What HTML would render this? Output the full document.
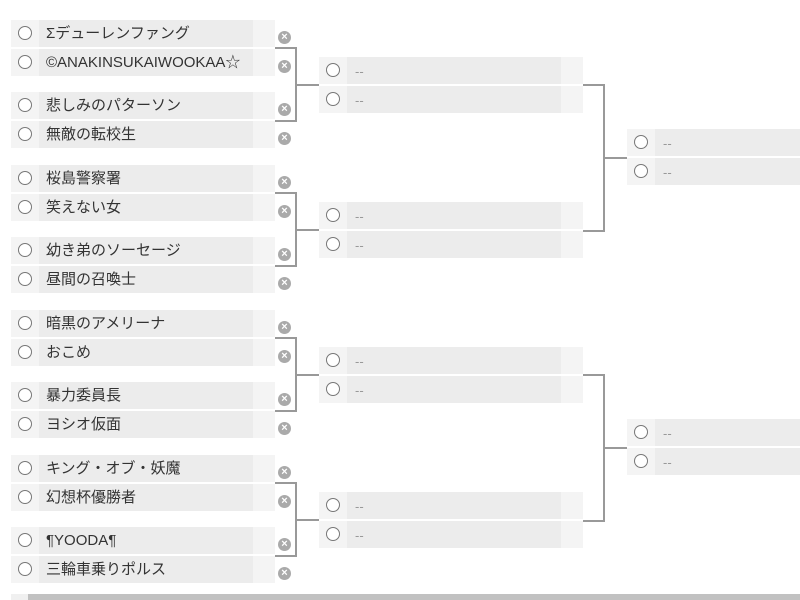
<!DOCTYPE html>
<html><head><meta charset="utf-8"><style>
*{margin:0;padding:0;box-sizing:border-box}
body{width:800px;height:600px;overflow:hidden;background:#fff;position:relative;font-family:"Liberation Sans","Noto Sans CJK JP",sans-serif}
.r{position:absolute;height:27px;background:#f4f4f4}
.a{left:11px;width:264px}
.b{left:319px;width:264px}
.t{left:627px;width:190px}
.n{position:absolute;left:28px;top:0;height:27px;width:214px;background:#ececec;font-size:15px;color:#333;line-height:28px;padding-left:7px;white-space:nowrap}
.t .n{width:170px}
.n.p{color:#999;font-size:13px;padding-left:8px;line-height:29px}
.c{position:absolute;left:7px;top:6px;width:14px;height:14px;border:1px solid #777;border-radius:50%;background:#fff}
.x{position:absolute;width:13px;height:13px;border-radius:50%;background:#aaa;color:#fff;font-size:11px;font-weight:bold;line-height:13px;text-align:center;left:278px}
.l{position:absolute;background:#999}
</style></head><body>
<div class="r a" style="top:20px"><div class="c"></div><div class="n">Σデューレンファング</div></div>
<div class="r a" style="top:49px"><div class="c"></div><div class="n">©ANAKINSUKAIWOOKAA☆</div></div>
<div class="r a" style="top:92px"><div class="c"></div><div class="n">悲しみのパターソン</div></div>
<div class="r a" style="top:121px"><div class="c"></div><div class="n">無敵の転校生</div></div>
<div class="r a" style="top:165px"><div class="c"></div><div class="n">桜島警察署</div></div>
<div class="r a" style="top:194px"><div class="c"></div><div class="n">笑えない女</div></div>
<div class="r a" style="top:237px"><div class="c"></div><div class="n">幼き弟のソーセージ</div></div>
<div class="r a" style="top:266px"><div class="c"></div><div class="n">昼間の召喚士</div></div>
<div class="r a" style="top:310px"><div class="c"></div><div class="n">暗黒のアメリーナ</div></div>
<div class="r a" style="top:339px"><div class="c"></div><div class="n">おこめ</div></div>
<div class="r a" style="top:382px"><div class="c"></div><div class="n">暴力委員長</div></div>
<div class="r a" style="top:411px"><div class="c"></div><div class="n">ヨシオ仮面</div></div>
<div class="r a" style="top:455px"><div class="c"></div><div class="n">キング・オブ・妖魔</div></div>
<div class="r a" style="top:484px"><div class="c"></div><div class="n">幻想杯優勝者</div></div>
<div class="r a" style="top:527px"><div class="c"></div><div class="n">¶YOODA¶</div></div>
<div class="r a" style="top:556px"><div class="c"></div><div class="n">三輪車乗りポルス</div></div>

<div class="x" style="top:31px">×</div><div class="x" style="top:60px">×</div><div class="x" style="top:103px">×</div><div class="x" style="top:132px">×</div>
<div class="x" style="top:176px">×</div><div class="x" style="top:205px">×</div><div class="x" style="top:248px">×</div><div class="x" style="top:277px">×</div>
<div class="x" style="top:321px">×</div><div class="x" style="top:350px">×</div><div class="x" style="top:393px">×</div><div class="x" style="top:422px">×</div>
<div class="x" style="top:466px">×</div><div class="x" style="top:495px">×</div><div class="x" style="top:538px">×</div><div class="x" style="top:567px">×</div>

<div class="r b" style="top:57px"><div class="c"></div><div class="n p">--</div></div>
<div class="r b" style="top:86px"><div class="c"></div><div class="n p">--</div></div>
<div class="r b" style="top:202px"><div class="c"></div><div class="n p">--</div></div>
<div class="r b" style="top:231px"><div class="c"></div><div class="n p">--</div></div>
<div class="r b" style="top:347px"><div class="c"></div><div class="n p">--</div></div>
<div class="r b" style="top:376px"><div class="c"></div><div class="n p">--</div></div>
<div class="r b" style="top:492px"><div class="c"></div><div class="n p">--</div></div>
<div class="r b" style="top:521px"><div class="c"></div><div class="n p">--</div></div>

<div class="r t" style="top:129px"><div class="c"></div><div class="n p">--</div></div>
<div class="r t" style="top:158px"><div class="c"></div><div class="n p">--</div></div>
<div class="r t" style="top:419px"><div class="c"></div><div class="n p">--</div></div>
<div class="r t" style="top:448px"><div class="c"></div><div class="n p">--</div></div>

<div class="l" style="left:275px;top:47px;width:22px;height:2px"></div>
<div class="l" style="left:295px;top:47px;width:2px;height:75px"></div>
<div class="l" style="left:275px;top:120px;width:22px;height:2px"></div>
<div class="l" style="left:297px;top:84px;width:22px;height:2px"></div>

<div class="l" style="left:275px;top:192px;width:22px;height:2px"></div>
<div class="l" style="left:295px;top:192px;width:2px;height:75px"></div>
<div class="l" style="left:275px;top:265px;width:22px;height:2px"></div>
<div class="l" style="left:297px;top:229px;width:22px;height:2px"></div>

<div class="l" style="left:275px;top:337px;width:22px;height:2px"></div>
<div class="l" style="left:295px;top:337px;width:2px;height:75px"></div>
<div class="l" style="left:275px;top:410px;width:22px;height:2px"></div>
<div class="l" style="left:297px;top:374px;width:22px;height:2px"></div>

<div class="l" style="left:275px;top:482px;width:22px;height:2px"></div>
<div class="l" style="left:295px;top:482px;width:2px;height:75px"></div>
<div class="l" style="left:275px;top:555px;width:22px;height:2px"></div>
<div class="l" style="left:297px;top:519px;width:22px;height:2px"></div>

<div class="l" style="left:583px;top:84px;width:22px;height:2px"></div>
<div class="l" style="left:603px;top:84px;width:2px;height:148px"></div>
<div class="l" style="left:583px;top:230px;width:22px;height:2px"></div>
<div class="l" style="left:605px;top:157px;width:22px;height:2px"></div>

<div class="l" style="left:583px;top:374px;width:22px;height:2px"></div>
<div class="l" style="left:603px;top:374px;width:2px;height:148px"></div>
<div class="l" style="left:583px;top:520px;width:22px;height:2px"></div>
<div class="l" style="left:605px;top:447px;width:22px;height:2px"></div>

<div style="position:absolute;left:11px;top:594px;width:17px;height:6px;background:#f0f0f0"></div>
<div style="position:absolute;left:28px;top:594px;width:772px;height:6px;background:#c1c1c1"></div>
</body></html>
